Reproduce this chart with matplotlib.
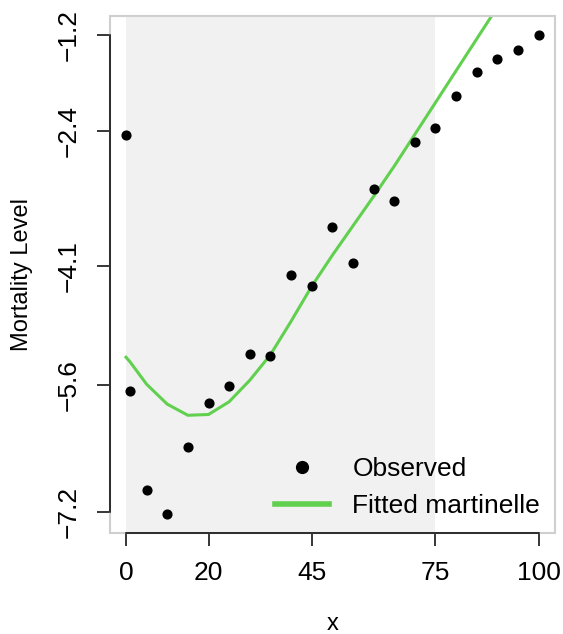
import matplotlib
matplotlib.use("Agg")
import matplotlib.pyplot as plt
from matplotlib.lines import Line2D
from matplotlib.patches import Rectangle

plt.rcParams['font.family'] = ['Liberation Sans', 'DejaVu Sans']

# ages (abridged table)
ages = [0, 1, 5, 10, 15, 20, 25, 30, 35, 40, 45, 50, 55, 60, 65, 70, 75, 80, 85, 90, 95, 100]
observed = [-2.46, -5.68, -6.92, -7.22, -6.38, -5.82, -5.61, -5.21, -5.23, -4.22, -4.36,
            -3.61, -4.07, -3.14, -3.29, -2.55, -2.37, -1.97, -1.67, -1.50, -1.39, -1.20]
fitted = [-5.25, -5.31, -5.59, -5.84, -5.98, -5.97, -5.81, -5.54, -5.22, -4.80, -4.36,
          -3.97, -3.60, -3.23, -2.85, -2.45, -2.05, -1.65, -1.25, -0.85, -0.45, -0.05]

x_ticks = [0, 20, 45, 75, 100]
y_ticks = [-1.2, -2.4, -4.1, -5.6, -7.2]
shade_range = (0, 75)

green = '#61D04F'
fs = 19

fig = plt.figure(figsize=(5.63, 6.34), dpi=100)
ax = fig.add_axes([109.5 / 563, (634 - 533) / 634, 445.5 / 563, 517 / 634])

ax.set_xlim(-4, 104)
ax.set_ylim(-7.46, -0.96)

# shaded fitting range
ax.axvspan(shade_range[0], shade_range[1], color='#f1f1f1', zorder=0, lw=0)

ax.plot(ages, fitted, color=green, lw=2.2, zorder=2)
ax.plot(ages, observed, 'o', color='black', ms=6.3, zorder=3)

# light grey box
ax.add_patch(Rectangle((0, 0), 1, 1, transform=ax.transAxes, fill=False,
                       edgecolor='#cfcfcf', lw=1.5, zorder=4, clip_on=False))

for s in ['top', 'right']:
    ax.spines[s].set_visible(False)
ax.spines['left'].set_bounds(y_ticks[-1], y_ticks[0])
ax.spines['bottom'].set_bounds(x_ticks[0], x_ticks[-1])
ax.spines['left'].set_linewidth(1.1)
ax.spines['bottom'].set_linewidth(1.1)
ax.spines['left'].set_zorder(5)
ax.spines['bottom'].set_zorder(5)

ax.set_xticks(x_ticks)
ax.set_xticklabels([str(v) for v in x_ticks])
ax.set_yticks(y_ticks)
ax.set_yticklabels([str(v).replace('-', '\u2212') for v in y_ticks], rotation=90, va='center')
ax.tick_params(axis='both', length=9.5, width=1.1, labelsize=fs, pad=11)

ax.set_xlabel('x', fontsize=17, labelpad=19.5)
ax.set_ylabel('Mortality Level', fontsize=17, labelpad=17)

handles = [Line2D([], [], marker='o', color='black', ls='none', ms=8.5),
           Line2D([], [], color=green, lw=4)]
ax.legend(handles, ['Observed', 'Fitted martinelle'], loc='lower right', frameon=False,
          fontsize=fs, handlelength=2.04, handletextpad=0.88, labelspacing=0.5,
          borderaxespad=0.16, borderpad=0.4)

fig.savefig('out.png', dpi=100)
